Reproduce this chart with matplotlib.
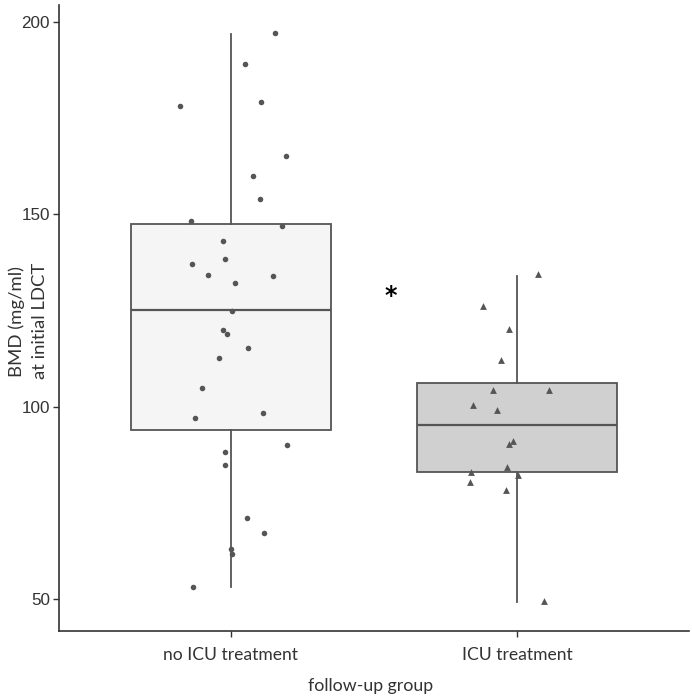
import numpy as np
import matplotlib
matplotlib.use('Agg')
import matplotlib.pyplot as plt

# categories
groups = ['no ICU treatment', 'ICU treatment']

# box statistics (whisker low, q1, median, q3, whisker high)
box_lo = [53.1, 49.2]
box_q1 = [93.8, 82.9]
box_med = [125.0, 95.2]
box_q3 = [147.5, 106.0]
box_hi = [196.8, 133.9]

# individual points, group 1 (no ICU)
noicu_bmd = [197.0, 189.0, 178.1, 179.1, 165.0, 160.0, 153.9, 148.1, 146.9, 143.1,
             138.2, 137.0, 134.1, 133.9, 132.1, 124.9, 119.9, 118.9, 115.1, 112.6,
             104.9, 97.1, 98.2, 90.1, 88.1, 84.9, 71.0, 67.1, 63.1, 61.8, 53.2]
noicu_jit = [0.155, 0.051, -0.178, 0.105, 0.194, 0.076, 0.103, -0.138, 0.178, -0.029,
             -0.021, -0.135, -0.080, 0.146, 0.013, 0.003, -0.027, -0.014, 0.059, -0.043,
             -0.100, -0.126, 0.114, 0.195, -0.022, -0.022, 0.057, 0.117, 0.002, 0.003, -0.131]

# individual points, group 2 (ICU)
icu_bmd = [134.3, 126.2, 120.1, 112.2, 104.3, 104.3, 100.3, 99.1, 91.1, 90.4,
           84.3, 83.1, 82.3, 80.3, 78.3, 49.4]
icu_jit = [0.072, -0.121, -0.030, -0.057, -0.083, 0.111, -0.156, -0.070, -0.014, -0.027,
           -0.034, -0.160, 0.002, -0.166, -0.038, 0.095]

box_fill = ['#f5f5f5', '#d0d0d0']
edge = '#555555'
txt = '#333333'

fig = plt.figure(figsize=(6.92, 7.0), dpi=100)
ax = fig.add_axes([59 / 692, 1 - 631 / 700, 630 / 692, 626 / 700])

stats = []
for i, g in enumerate(groups):
    stats.append({'label': g, 'whislo': box_lo[i], 'q1': box_q1[i], 'med': box_med[i],
                  'q3': box_q3[i], 'whishi': box_hi[i]})

bp = ax.bxp(stats, positions=[1, 2], widths=0.7, patch_artist=True,
            showfliers=False, showcaps=False,
            boxprops=dict(edgecolor=edge, linewidth=1.3),
            medianprops=dict(color=edge, linewidth=1.6),
            whiskerprops=dict(color=edge, linewidth=1.3))
for patch, c in zip(bp['boxes'], box_fill):
    patch.set_facecolor(c)

ax.scatter(1 + np.array(noicu_jit), noicu_bmd, s=16, color='#555555', marker='o',
           linewidths=0, zorder=3)
ax.scatter(2 + np.array(icu_jit), icu_bmd, s=24, color='#555555', marker='^',
           linewidths=0, zorder=3)

ax.text(1.56, 128.8, '*', fontsize=17, fontweight='bold', ha='center', va='center',
        color='black')

ax.set_xlim(0.4, 2.6)
ax.set_ylim(41.7, 204.3)
ax.set_yticks([50, 100, 150, 200])
ax.set_xticks([1, 2])
ax.set_xticklabels(groups, fontfamily='Lato', fontsize=12.6, color=txt)
for lbl in ax.get_yticklabels():
    lbl.set_fontfamily('Liberation Sans')
    lbl.set_fontsize(12.3)
    lbl.set_color(txt)

for s in ['top', 'right']:
    ax.spines[s].set_visible(False)
for s in ['left', 'bottom']:
    ax.spines[s].set_color(txt)
    ax.spines[s].set_linewidth(1.2)
ax.tick_params(axis='both', colors=txt, length=4, width=1.0)
ax.tick_params(axis='y', pad=2.5)
ax.tick_params(axis='x', pad=7.5)

fig.text(28 / 692, 1 - 321 / 700, 'BMD (mg/ml)\nat initial LDCT', rotation=90,
         ha='center', va='center', fontfamily='Lato', fontsize=13.3, color=txt,
         linespacing=1.5)
fig.text(371 / 692, 1 - 691 / 700, 'follow-up group', ha='center', va='baseline',
         fontfamily='Lato', fontsize=12.8, color=txt)

fig.savefig('out.png', dpi=100)
